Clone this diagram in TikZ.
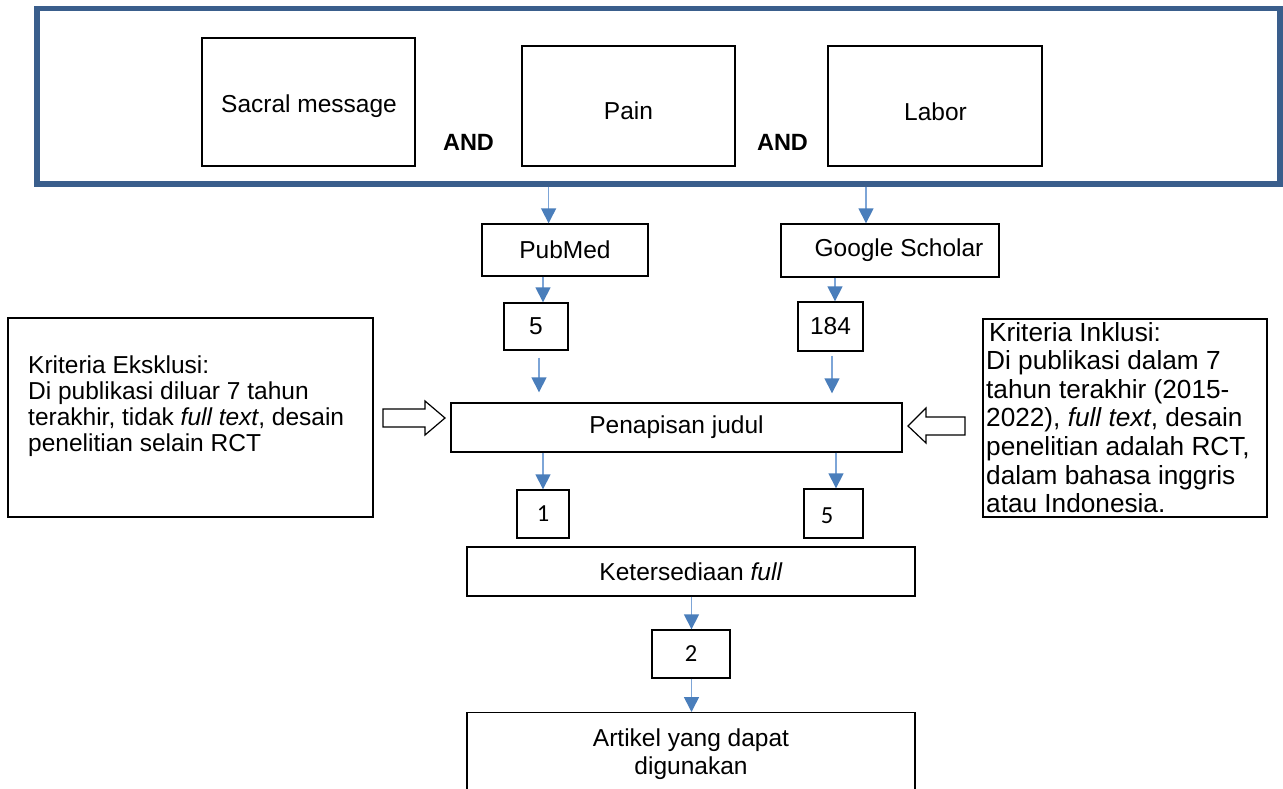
\documentclass[tikz,border=0pt]{standalone}
\usepackage{fontspec}
\setmainfont{Liberation Sans}
\newfontfamily\carlitofont{Carlito}
\usetikzlibrary{arrows.meta}
\definecolor{framecol}{RGB}{58,94,140}
\definecolor{lineblue}{RGB}{125,165,215}
\definecolor{headblue}{RGB}{74,126,187}
\begin{document}
\begin{tikzpicture}[x=1pt,y=-1pt,
  box/.style={draw=black, line width=1.4pt, inner sep=0pt},
  txt/.style={inner sep=0pt, font=\fontsize{24.5}{26}\selectfont},
  num/.style={inner sep=0pt, font=\carlitofont\fontsize{24.5}{26.5}\selectfont},
  andlbl/.style={inner sep=0pt, font=\bfseries\fontsize{23.5}{26}\selectfont},
  conn/.style={draw=lineblue, line width=1.6pt, -{Triangle[length=15pt,width=15pt,fill=headblue,color=headblue]}},
  hollow/.style={draw=black, line width=1.2pt, fill=white, line join=miter}
]
\useasboundingbox (0,0) rectangle (1283,789);
\fill[white] (0,0) rectangle (1283,789);

% column coordinates
\coordinate (cA) at (548.6,0);
\coordinate (cB) at (866,0);
\coordinate (cC) at (543,0);
\coordinate (cD) at (835,0);
\coordinate (cE) at (539,0);
\coordinate (cF) at (832,0);
\coordinate (cG) at (836,0);
\coordinate (cH) at (691.5,0);

% top frame
\node[draw=framecol, line width=5.5pt, minimum width=1243pt, minimum height=175.5pt, inner sep=0pt, outer sep=2.75pt] (frame) at (658.5,96.25) {};

\node[box, minimum width=213pt, minimum height=128pt] (sacral) at (308.5,102) {};
\node[txt] (sacralT) at (309,106) {Sacral message};
\node[box, minimum width=213pt, minimum height=120pt] (pain) at (628.5,106) {};
\node[txt] (painT) at (628.5,111) {Pain};
\node[box, minimum width=214pt, minimum height=120pt] (labor) at (935,106) {};
\node[txt] (laborT) at (935.5,112) {Labor};
\node[andlbl] (and1) at (468.5,142.5) {AND};
\node[andlbl] (and2) at (782.5,142) {AND};

% sources
\node[box, txt, minimum width=166pt, minimum height=52pt] (pub) at (565,250) {PubMed};
\node[box, txt, minimum width=218pt, minimum height=53pt] (gs) at (890,250.5) {\hspace*{18pt}Google Scholar};

\node[box, txt, minimum width=64pt, minimum height=47pt] (n5) at (536,326.5) {5};
\node[box, txt, minimum width=65pt, minimum height=49pt] (n184) at (830.5,326.5) {184};

\node[box, txt, minimum width=451pt, minimum height=49pt] (pen) at (676.5,427.5) {Penapisan judul};

\node[box, num, minimum width=52pt, minimum height=48pt] (n1) at (543,514) {1};
\node[box, minimum width=59pt, minimum height=49pt] (n5b) at (833.5,513.5) {};
\node[num] (n5bT) at (827,516) {5};

\node[box, txt, minimum width=448pt, minimum height=49pt] (ket) at (691,571.5) {Ketersediaan \textit{full}};
\node[box, num, minimum width=78pt, minimum height=48pt] (n2) at (691,654) {2};
\node[box, minimum width=448pt, minimum height=100pt, anchor=north] (art) at (691,712) {};
\node[txt, font=\fontsize{24.5}{28}\selectfont, align=center] (artT) at (691,754) {Artikel yang dapat\\digunakan};

% criteria boxes
\node[box, minimum width=365pt, minimum height=199pt] (excl) at (190.5,417.5) {};
\node[txt, align=left, anchor=west] (exclT) at (28,406) {Kriteria Eksklusi:\\Di publikasi diluar 7 tahun\\terakhir, tidak \textit{full text}, desain\\penelitian selain RCT};

\node[box, minimum width=284pt, minimum height=198pt] (incl) at (1125,418) {};
\node[inner sep=0pt, font=\fontsize{26.2}{28.6}\selectfont, align=left, anchor=north west] (inclT) at (986,322) {\hspace*{3pt}Kriteria Inklusi:\\Di publikasi dalam 7\\tahun terakhir (2015-\\2022), \textit{full text}, desain\\penelitian adalah RCT,\\dalam bahasa inggris\\atau Indonesia.};

% hollow block arrows
\draw[hollow] (383,409) -- (425,409) -- (425,401) -- (445,418) -- (425,435) -- (425,427) -- (383,427) -- cycle;
\draw[hollow] (965,417) -- (926,417) -- (926,408) -- (908,426) -- (926,443) -- (926,435) -- (965,435) -- cycle;

% connectors
\draw[conn] (frame.south -| cA) -- (pub.north -| cA);
\draw[conn] (frame.south -| cB) -- (gs.north -| cB);
\draw[conn] (pub.south -| cC) -- (n5.north -| cC);
\draw[conn] (gs.south -| cD) -- (n184.north -| cD);
\draw[conn, shorten <=7pt, shorten >=10pt] (n5.south -| cE) -- (pen.north -| cE);
\draw[conn, shorten <=4pt, shorten >=9pt] (n184.south -| cF) -- (pen.north -| cF);
\draw[conn] (pen.south -| cC) -- (n1.north -| cC);
\draw[conn] (pen.south -| cG) -- (n5b.north -| cG);
\draw[conn] (ket.south -| cH) -- (n2.north -| cH);
\draw[conn] (n2.south -| cH) -- (art.north -| cH);
\end{tikzpicture}
\end{document}
